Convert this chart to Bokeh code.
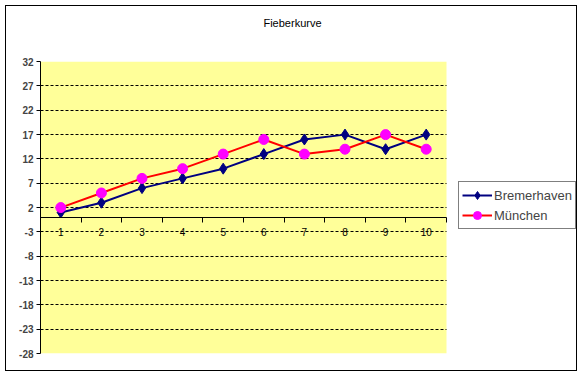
from bokeh.plotting import figure
from bokeh.models import Range1d, FixedTicker, Legend, LegendItem, ColumnDataSource, Label
from bokeh.embed import file_html
from bokeh.resources import INLINE

# ---- data ----
days = ["1", "2", "3", "4", "5", "6", "7", "8", "9", "10"]
bremerhaven = [1, 3, 6, 8, 10, 13, 16, 17, 14, 17]
muenchen = [2, 5, 8, 10, 13, 16, 13, 14, 17, 14]
y_ticks = [-28, -23, -18, -13, -8, -3, 2, 7, 12, 17, 22, 27, 32]
series_names = ["Bremerhaven", "München"]
chart_title = "Fieberkurve"

n = len(days)
x_pos = [i + 0.5 for i in range(n)]
src = ColumnDataSource(dict(x=x_pos, day=days, b=bremerhaven, m=muenchen))

y_lo, y_hi = y_ticks[0], y_ticks[-1]
# plot area is 406 x 291 px; the frame extends right (legend) and up (title)
x_max = n * 537 / 406
y_max = y_lo + (y_hi - y_lo) * 346 / 291

p = figure(width=572, height=366, output_backend="svg", toolbar_location=None,
           x_range=Range1d(0, x_max), y_range=Range1d(y_lo, y_max),
           min_border_left=34, min_border_right=1, min_border_top=0, min_border_bottom=19)
p.background_fill_color = "white"
p.border_fill_color = "white"
p.outline_line_color = None
p.styles = {"border": "1px solid black", "margin-left": "5px", "margin-top": "5px"}

# yellow plot area (below the grid)
p.quad(left=0, right=n, bottom=y_lo, top=y_hi, fill_color="#FFFF99", line_color=None,
       level="image")

# title
p.add_layout(Label(x=(292 - 40) / 40.6, y=y_hi + (61 - 22) / 4.85, text=chart_title,
                   text_align="center", text_baseline="middle",
                   text_font="Liberation Sans", text_font_size="11px", text_color="black"))

# x axis crossing at zero
xa = p.xaxis[0]
xa.fixed_location = 0
xa.bounds = (0, n)
xa.ticker = FixedTicker(ticks=x_pos, minor_ticks=list(range(0, n + 1)))
xa.major_label_overrides = {float(xv): d for xv, d in zip(x_pos, days)}
xa.major_tick_out = 0
xa.major_tick_in = 0
xa.minor_tick_out = 5
xa.minor_tick_in = 0
xa.minor_tick_line_color = "black"
xa.axis_line_color = "black"
xa.major_label_standoff = 6
xa.major_label_text_font = "Liberation Sans"
xa.major_label_text_font_size = "10px"
xa.major_label_text_color = "black"

# y axis
ya = p.yaxis[0]
ya.bounds = (y_lo, y_hi)
ya.ticker = FixedTicker(ticks=y_ticks)
ya.major_label_overrides = {float(t): str(t) for t in y_ticks}
ya.minor_tick_line_color = None
ya.major_tick_out = 4
ya.major_tick_in = 0
ya.major_label_standoff = 3
ya.major_label_text_font = "Liberation Sans"
ya.major_label_text_font_size = "10px"
ya.major_label_text_font_style = "bold"
ya.axis_line_color = "black"

p.xgrid.visible = False
p.ygrid.ticker = FixedTicker(ticks=y_ticks[1:-1])
p.ygrid.cross_bounds = (0, n)
p.ygrid.grid_line_color = "black"
p.ygrid.grid_line_dash = "3 2"
p.ygrid.grid_line_width = 1

# series
l1 = p.line("x", "b", source=src, line_color="#000080", line_width=2)
s1 = p.scatter("x", "b", source=src, marker="diamond", size=11,
               fill_color="#000080", line_color="#000080")
l2 = p.line("x", "m", source=src, line_color="#FF0000", line_width=2)
s2 = p.scatter("x", "m", source=src, marker="circle", size=10,
               fill_color="#FF00FF", line_color="#FF00FF")

legend = Legend(items=[LegendItem(label=series_names[0], renderers=[l1, s1]),
                       LegendItem(label=series_names[1], renderers=[l2, s2])],
                location=(418, 124))
legend.border_line_color = "black"
legend.border_line_width = 1
legend.background_fill_color = "white"
legend.background_fill_alpha = 1
legend.padding = 3
legend.spacing = 0
legend.margin = 0
legend.glyph_width = 30
legend.glyph_height = 20
legend.label_height = 20
legend.label_standoff = 2
legend.label_text_font = "Liberation Sans"
legend.label_text_font_size = "13px"
p.add_layout(legend, "center")

open("out.html", "w").write(file_html(p, INLINE))
